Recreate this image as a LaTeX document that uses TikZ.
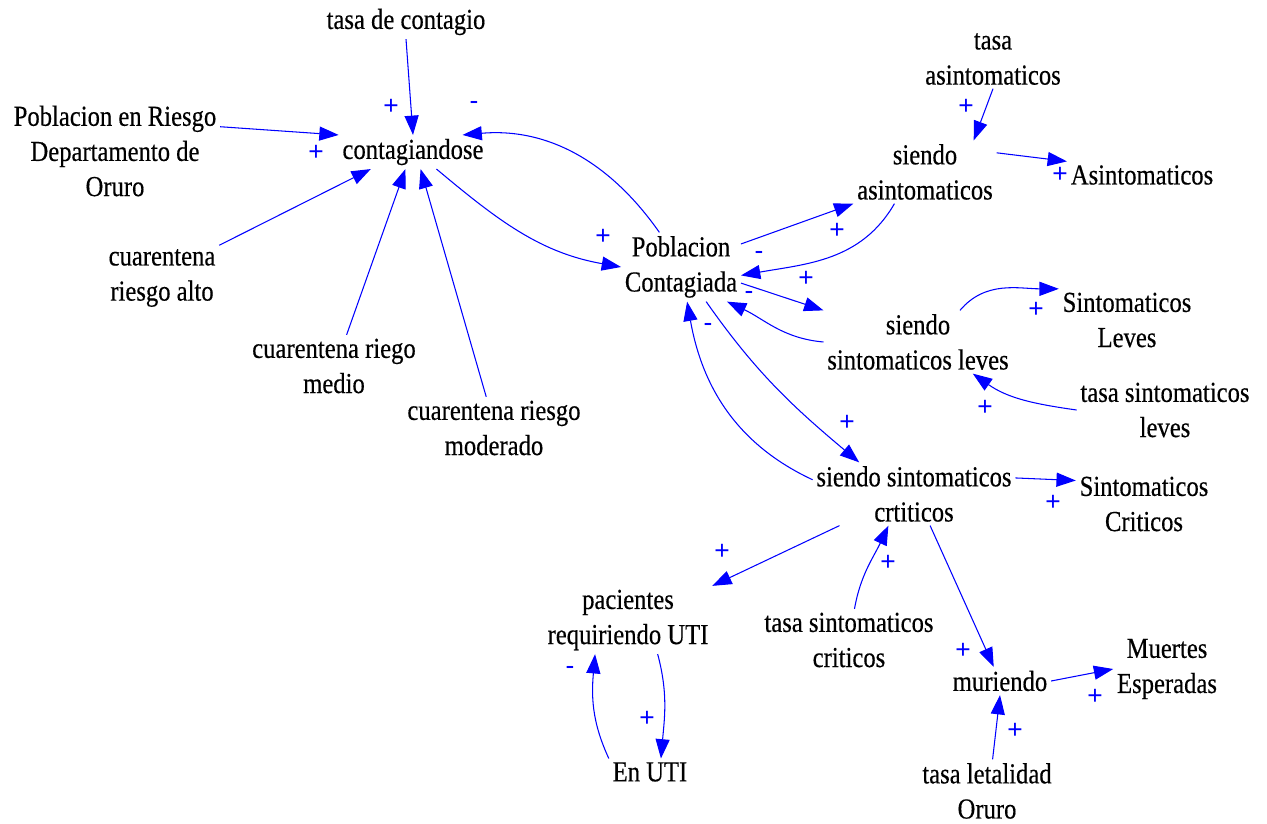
\documentclass[tikz,border=0pt]{standalone}
\usepackage{fontspec}
\setmainfont{Liberation Serif}[FakeStretch=0.85,FakeBold=0.4]
\newfontfamily\signfont{Liberation Sans}
\usetikzlibrary{arrows.meta}

\begin{document}
\begin{tikzpicture}[x=0.02cm, y=0.02cm,
  var/.style={align=center, inner sep=2pt, font=\fontsize{16.5}{20}\selectfont},
  link/.style={draw=blue, line width=0.6pt, -{Triangle[length=11pt,width=8pt]}},
  sign/.style={text=blue, inner sep=0pt, font=\signfont\fontsize{15}{15}\selectfont}]

\useasboundingbox (0,0) rectangle (1267,-824);

\node (tc) [var] at (406,-22) {tasa de contagio};
\node (pr) [var] at (115,-151) {Poblacion en Riesgo\\Departamento de\\Oruro};
\node (ct) [var] at (413,-152) {contagiandose};
\node (alto) [var] at (162,-278) {cuarentena\\riesgo alto};
\node (medio) [var] at (334,-366) {cuarentena riego\\medio};
\node (mod) [var] at (494,-428) {cuarentena riesgo\\moderado};
\node (pc) [var] at (681,-267) {Poblacion\\Contagiada};

\node (ta) [var] at (993,-59) {tasa\\asintomaticos};
\node (sa) [var] at (925,-172) {siendo\\asintomaticos};
\node (asi) [var] at (1142,-175) {Asintomaticos};
\node (ssl) [var] at (918,-342) {siendo\\sintomaticos leves};
\node (sl) [var] at (1127,-320) {Sintomaticos\\Leves};
\node (tsl) [var] at (1165,-410) {tasa sintomaticos\\leves};

\node (ssc) [var] at (914,-494) {siendo sintomaticos\\crtiticos};
\node (sc) [var] at (1144,-504) {Sintomaticos\\Criticos};
\node (pru) [var] at (628,-620) {pacientes\\requiriendo UTI};
\node (tsc) [var] at (849,-640) {tasa sintomaticos\\criticos};
\node (mur) [var] at (1000,-681) {muriendo};
\node (me) [var] at (1167,-669) {Muertes\\Esperadas};
\node (eu) [var] at (650,-772) {En UTI};
\node (tlo) [var] at (987,-791) {tasa letalidad\\Oruro};

\draw [link] (tc.south) -- (ct.north);
\draw [link] (pr.13) -- (ct.north west);
\draw [link] (alto.north east) -- (ct.202);
\draw [link] (medio.68) -- (ct.246);
\draw [link] (mod.104) -- (ct.294);
\draw [link] (ct.324) to[out=-40, in=170] (pc.west);
\draw [link] (pc.122) to[out=125, in=5] (ct.19);

\draw [link] (pc.21) -- (sa.south west);
\draw [link] (sa.226) to[out=240, in=10] (pc.-8);
\draw [link] (ta.south) -- (sa.33);
\draw [link] (sa.15) -- (asi.north west);
\draw [link] (pc.-15) -- (ssl.north west);
\draw [link] (ssl.west) to[out=175, in=-25] (pc.-37);
\draw [link] (ssl.37) to[out=50, in=180] (sl.north west);
\draw [link] (tsl.west) to[out=172, in=-35] (ssl.-30);

\draw [link] (pc.-54) to[out=-55, in=140] (ssc.150);
\draw [link] (ssc.172) to[out=155, in=-80] (pc.-80);
\draw [link] (ssc.9) -- (sc.161);
\draw [link] (ssc.203) -- (pru.north east);
\draw [link] (tsc.80) to[out=80, in=245] (ssc.231);
\draw [link] (ssc.-63) -- (mur.114);
\draw [link] (mur.east) -- (me.west);
\draw [link] (tlo.80) -- (mur.south);
\draw [link] (pru.-49) to[out=-75, in=85] (eu.51);
\draw [link] (eu.north west) to[out=115, in=-95] (pru.226);

\node (s-tc) [sign] at (391,-107) {+};
\node (s-fb) [sign] at (474,-105) {-};
\node (s-pr) [sign] at (316,-153) {+};
\node (s-ct) [sign] at (603,-237) {+};
\node (s-ta) [sign] at (966,-107) {+};
\node (s-asi) [sign] at (1060,-175) {+};
\node (s-sa) [sign] at (837,-231) {+};
\node (s-sapc) [sign] at (759,-255) {-};
\node (s-ssl) [sign] at (806,-279) {+};
\node (s-sslpc) [sign] at (749,-295) {-};
\node (s-sscpc) [sign] at (708,-327) {-};
\node (s-sl) [sign] at (1036,-310) {+};
\node (s-tsl) [sign] at (985,-408) {+};
\node (s-ssc) [sign] at (847,-423) {+};
\node (s-sc) [sign] at (1053,-503) {+};
\node (s-pru) [sign] at (722,-552) {+};
\node (s-tsc) [sign] at (888,-563) {+};
\node (s-mur) [sign] at (963,-651) {+};
\node (s-me) [sign] at (1095,-697) {+};
\node (s-tlo) [sign] at (1015,-731) {+};
\node (s-eu) [sign] at (647,-719) {+};
\node (s-eupru) [sign] at (570,-670) {-};

\end{tikzpicture}
\end{document}
